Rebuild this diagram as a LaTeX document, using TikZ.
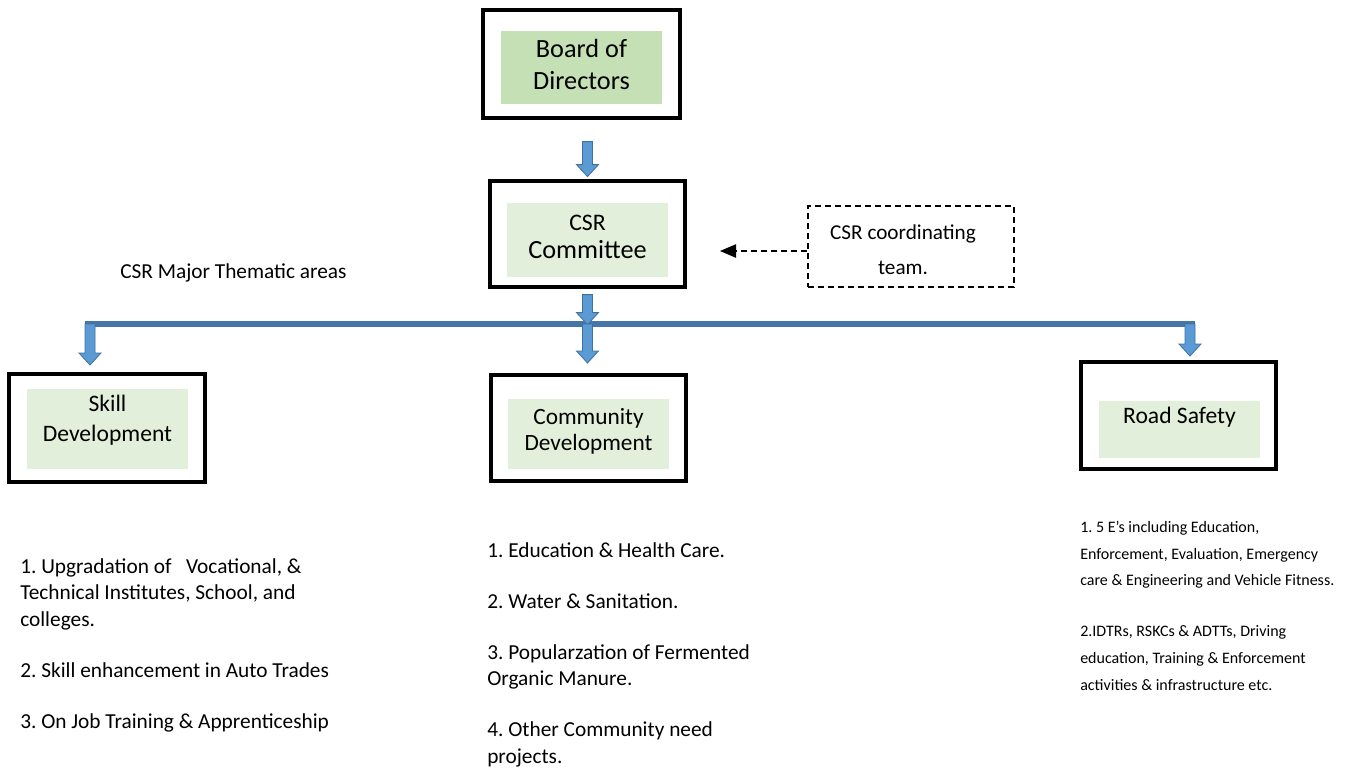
\documentclass[tikz,border=0pt]{standalone}
\usepackage{fontspec}
\setmainfont{Carlito}
\usetikzlibrary{positioning,calc,fit,arrows.meta}

\definecolor{boardgreen}{RGB}{197,224,180}
\definecolor{paleGreen}{RGB}{226,239,218}
\definecolor{arrowblue}{RGB}{91,155,213}
\definecolor{arrowedge}{RGB}{65,113,156}
\definecolor{barblue}{RGB}{70,118,166}

\tikzset{
  framebox/.style={draw=black, line width=2.4pt, inner sep=0pt},
  fillbox/.style={fill=#1, inner sep=0pt},
  teambox/.style={draw=black, line width=1.3pt, dash pattern=on 4.5pt off 3pt, inner sep=0pt},
  boxtext/.style={align=center, inner sep=0pt, font=\fontsize{17.7}{22.5}\selectfont},
  listtext/.style={align=left, inner sep=0pt, anchor=base west, font=\fontsize{16}{19.9}\selectfont},
  busline/.style={draw=barblue, line width=3.8pt},
  dasharrow/.style={line width=0.9pt, dash pattern=on 4.5pt off 3pt, -{Triangle[length=12pt,width=10pt]}},
  pics/blockdown/.style={code={
    \filldraw[fill=arrowblue, draw=arrowedge, line width=0.6pt]
      (-5,0) -- (5,0) -- (5,12-#1) -- (11,12-#1) -- (0,-#1) -- (-11,12-#1) -- (-5,12-#1) -- cycle;
  }},
}

\begin{document}
\frenchspacing
\begin{tikzpicture}[x=0.75pt,y=0.75pt,yscale=-1,xscale=1]
        \useasboundingbox (0,0) rectangle (1350,769);

        %Shape: Rectangle [Board of Directors]
        \node[framebox, fit={(483,10) (680,118)}] (board) {};
        \node[fillbox=boardgreen, fit={(501,31) (662,104)}] (boardfill) {};
        %Shape: Rectangle [CSR Committee]
        \node[framebox, fit={(490,181) (685,287)}] (committee) {};
        \node[fillbox=paleGreen, fit={(507,203) (668,277)}] (committeefill) {};
        %Shape: Rectangle [coordinating team]
        \node[teambox, fit={(808,206) (1014,287)}] (team) {};
        %Shape: Rectangle [Skill Development]
        \node[framebox, fit={(9,374) (205,482)}] (skill) {};
        \node[fillbox=paleGreen, fit={(27,389) (188,469)}] (skillfill) {};
        %Shape: Rectangle [Community Development]
        \node[framebox, fit={(491,375) (686,481)}] (community) {};
        \node[fillbox=paleGreen, fit={(508,399) (669,469)}] (communityfill) {};
        %Shape: Rectangle [Road Safety]
        \node[framebox, fit={(1081,362) (1276,469)}] (road) {};
        \node[fillbox=paleGreen, fit={(1099,401) (1260,458)}] (roadfill) {};

        %Straight Lines [bus]
        \coordinate (tapL) at (90,324);
        \coordinate (tapM) at (587.5,324);
        \coordinate (tapR) at (1190,324);
        \draw[busline] ($(tapL)+(-5,0)$) -- ($(tapR)+(5,0)$);

        %Block Arrows
        \path (board.south -| committee.north) ++(0,22) pic {blockdown=35};
        \path (committee.south) ++(0,6) pic {blockdown=30};
        \path (tapL) pic {blockdown=41};
        \path (tapM) pic {blockdown=39};
        \path (tapR) pic {blockdown=32};

        %Dashed Line [team to committee]
        \coordinate (teamtip) at (720,251);
        \draw[dasharrow] (team.west |- teamtip) -- (teamtip);

        % Text Node
        \node[boxtext, font=\fontsize{19.7}{24}\selectfont] (boardtxt) at (581.5,64) {Board of\\Directors};
        % Text Node
        \node[boxtext, font=\fontsize{17.8}{21}\selectfont] (committeetxt) at (587.5,236.5) {CSR\\{\fontsize{19.7}{21}\selectfont Committee}};
        % Text Node
        \node[boxtext, font=\fontsize{15.9}{26}\selectfont] (teamtxt) at (903,249.5) {CSR coordinating\\team.};
        % Text Node
        \node[boxtext] (skilltxt) at (107.5,420) {Skill\\Development};
        % Text Node
        \node[boxtext, font=\fontsize{17.5}{19.5}\selectfont] (communitytxt) at (588.5,431) {Community\\Development};
        % Text Node
        \node[boxtext] (roadtxt) at (1179.5,417) {Road Safety};
        % Text Node
        \node[listtext] (thematic) at (120,278) {CSR Major Thematic areas};

        % Text Node
        \node[listtext] (skilllist) at (20,728.5) {1. Upgradation of\ \ \ Vocational, \&\\
            Technical Institutes, School, and\\
            colleges.\\[18.4pt]
            2. Skill enhancement in Auto Trades\\[18.4pt]
            3. On Job Training \& Apprenticeship};
        % Text Node
        \node[listtext] (communitylist) at (487,763.5) {1. Education \& Health Care.\\[18.4pt]
            2. Water \& Sanitation.\\[18.4pt]
            3. Popularzation of Fermented\\
            Organic Manure.\\[18.4pt]
            4. Other Community need\\
            projects.};
        % Text Node
        \node[listtext, font=\fontsize{12}{19.9}\selectfont] (roadlist) at (1080,690) {1. 5 E’s including Education,\\
            Enforcement, Evaluation, Emergency\\
            care \& Engineering and Vehicle Fitness.\\[18.4pt]
            2.IDTRs, RSKCs \& ADTTs, Driving\\
            education, Training \& Enforcement\\
            activities \& infrastructure etc.};
\end{tikzpicture}
\end{document}
